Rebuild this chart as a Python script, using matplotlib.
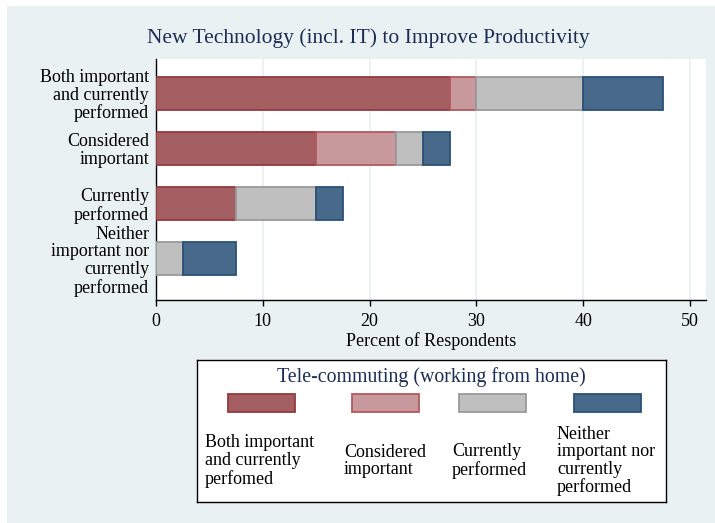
import numpy as np
import matplotlib
matplotlib.use("Agg")
from matplotlib import pyplot as plt
from matplotlib.patches import Rectangle

# data
categories = ["Both important\nand currently\nperformed",
              "Considered\nimportant",
              "Currently\nperformed",
              "Neither\nimportant nor\ncurrently\nperformed"]
series_labels = ["Both important\nand currently\nperfomed",
                 "Considered\nimportant",
                 "Currently\nperformed",
                 "Neither\nimportant nor\ncurrently\nperformed"]
both_vals = [27.5, 15.0, 7.5, 0.0]
considered_vals = [2.5, 7.5, 0.0, 0.0]
currently_vals = [10.0, 2.5, 7.5, 2.5]
neither_vals = [7.5, 2.5, 2.5, 5.0]
x_ticks = [0, 10, 20, 30, 40, 50]

title = "New Technology (incl. IT) to Improve Productivity"
legend_title = "Tele-commuting (working from home)"
x_label = "Percent of Respondents"

fills = ["#A35E62", "#C8999C", "#BFBFBF", "#476A8B"]
edges = ["#94383F", "#B3595F", "#9A9A9A", "#2A5077"]
navy = "#1E2D53"
bg = "#EAF1F3"

plt.rcParams['font.family'] = ['Liberation Serif', 'DejaVu Serif']

fig = plt.figure(figsize=(7.15, 5.23), dpi=100)
fig.patch.set_facecolor("white")
fig.patches.append(Rectangle((7 / 715, 0), 1, (523 - 6) / 523, transform=fig.transFigure,
                             facecolor=bg, edgecolor="none", zorder=-10))

ax = fig.add_axes([156 / 715, (523 - 300) / 523, 550 / 715, 241 / 523])
ax.set_facecolor("white")

ypos = np.arange(len(categories))[::-1]
left = np.zeros(len(categories))
for vals, fc, ec in zip([both_vals, considered_vals, currently_vals, neither_vals], fills, edges):
    v = np.array(vals)
    m = v > 0
    ax.barh(ypos[m], v[m], left=left[m], height=0.6, color=fc, edgecolor=ec, linewidth=1.3, zorder=3)
    left += v

ax.set_xlim(0, 51.5)
ax.set_ylim(-0.745, 3.618)
ax.set_xticks(x_ticks)
ax.set_yticks(ypos)
ax.set_yticklabels(categories, fontsize=13, linespacing=1.05)
ax.tick_params(axis="y", length=0, pad=5)
ax.tick_params(axis="x", length=4, width=1, pad=5, labelsize=13, color="black")
ax.xaxis.grid(True, color="#E8EFF1", linewidth=1.2, zorder=0)
ax.set_axisbelow(True)
for s in ["top", "right"]:
    ax.spines[s].set_visible(False)
ax.spines["left"].set_linewidth(1)
ax.spines["bottom"].set_linewidth(1)
ax.set_xlabel(x_label, fontsize=13, labelpad=2)

fig.text(368 / 715, (523 - 38) / 523, title, fontsize=15.5, color=navy, ha="center", va="center")

# legend box
lax = fig.add_axes([197 / 715, (523 - 502) / 523, 469 / 715, 142 / 523])
lax.set_xlim(0, 469)
lax.set_ylim(142, 0)
lax.set_xticks([])
lax.set_yticks([])
for s in lax.spines.values():
    s.set_linewidth(1)
    s.set_color("black")
lax.text(234.5, 17.5, legend_title, fontsize=14.3, color=navy, ha="center", va="center")
swatch_x = [31, 155, 262, 377]
text_x = [8, 147, 255, 360]
for sx, tx, fc, ec, lab in zip(swatch_x, text_x, fills, edges, series_labels):
    lax.add_patch(Rectangle((sx, 34), 67, 18, facecolor=fc, edgecolor=ec, linewidth=1.3))
    lax.text(tx, 101, lab, fontsize=13, ha="left", va="center", linespacing=1.05)

fig.savefig("out.png", dpi=100)
